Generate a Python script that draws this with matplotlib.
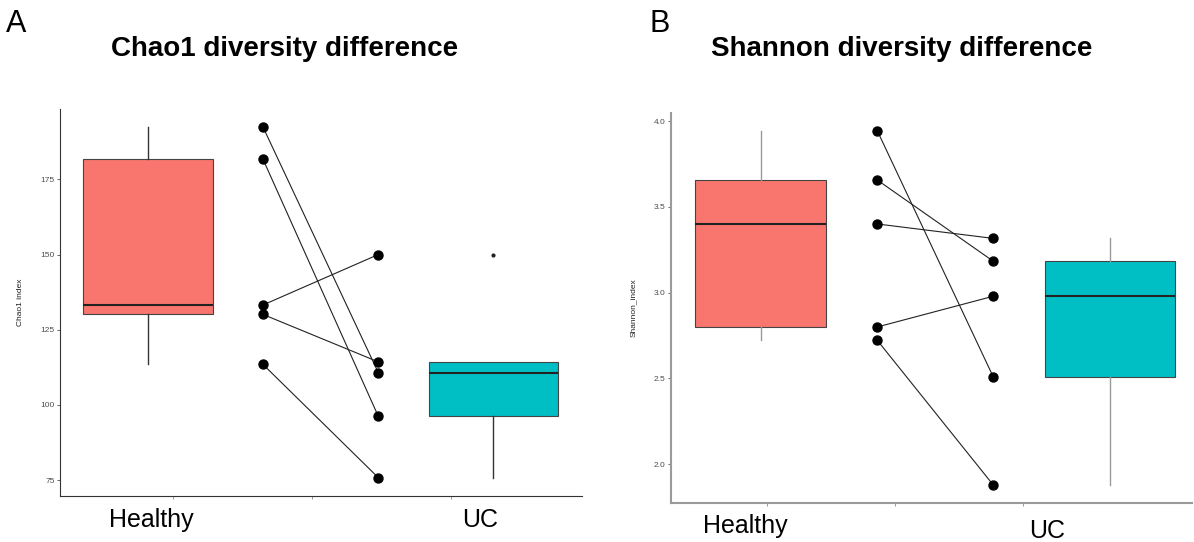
import matplotlib.pyplot as plt
import matplotlib.transforms as mtransforms

plt.rcParams['font.family'] = ['Liberation Sans', 'DejaVu Sans']

# Paired samples: Healthy -> UC for each subject
chao1_healthy = [192.5, 181.8, 133.2, 130.1, 113.5]
chao1_uc = [110.7, 96.2, 150.0, 114.3, 75.8]

shannon_healthy = [3.943, 3.656, 3.400, 2.800, 2.722]
shannon_uc = [2.509, 3.183, 3.316, 2.979, 1.879]

groups = ["Healthy", "UC"]
colors = ["#F8766D", "#00BFC4"]

fig = plt.figure(figsize=(11.94, 5.42), dpi=100)


def panel(rect, healthy, uc, title, ylabel, yticks, ylim, xlim, box_pos,
          box_w, pair_pos, label_pos, label_y, axis_color, axis_lw,
          whisk_color, letter, letter_x, title_x):
    ax = fig.add_axes(rect)
    bp = ax.boxplot([healthy, uc], positions=box_pos, widths=box_w,
                    patch_artist=True, showcaps=False, whis=1.5,
                    medianprops=dict(color="#222222", lw=1.5),
                    whiskerprops=dict(color=whisk_color, lw=1.0),
                    boxprops=dict(edgecolor="#444444", lw=0.8),
                    flierprops=dict(marker="o", markersize=2,
                                    markerfacecolor="#222222",
                                    markeredgecolor="#222222"))
    for patch, c in zip(bp["boxes"], colors):
        patch.set_facecolor(c)

    # paired lines between the two time points
    for h, u in zip(healthy, uc):
        ax.plot(pair_pos, [h, u], color="#222222", lw=0.8, zorder=3)
    ax.scatter([pair_pos[0]] * len(healthy), healthy, s=42, color="black",
               zorder=4)
    ax.scatter([pair_pos[1]] * len(uc), uc, s=42, color="black", zorder=4)

    ax.set_xlim(*xlim)
    ax.set_ylim(*ylim)
    ax.set_yticks(yticks)
    ax.set_xticks([1, 2, 3])
    ax.set_xticklabels([])
    ax.tick_params(axis="y", labelsize=6, colors="#4D4D4D", length=2.5,
                   width=0.6, pad=1.5)
    ax.tick_params(axis="x", colors="#888888", length=2.5, width=0.6)
    for s in ["top", "right"]:
        ax.spines[s].set_visible(False)
    for s in ["left", "bottom"]:
        ax.spines[s].set_color(axis_color)
        ax.spines[s].set_linewidth(axis_lw)
    ax.set_ylabel(ylabel, fontsize=6, color="#222222", labelpad=12)

    trans = mtransforms.blended_transform_factory(ax.transData, ax.transAxes)
    for g, x, y in zip(groups, label_pos, label_y):
        ax.text(x, y, g, transform=trans, ha="center", va="baseline",
                fontsize=18, color="black")

    fig.text(title_x, 0.91, title, ha="center", va="center", fontsize=20,
             fontweight="bold")
    fig.text(letter_x, 0.955, letter, ha="left", va="center", fontsize=22)
    return ax


panel([0.0503, 0.0849, 0.4372, 0.714], chao1_healthy, chao1_uc,
      "Chao1 diversity difference", "Chao1 index", [75, 100, 125, 150, 175],
      (69.7, 198.4), (0.187, 3.94), [0.818, 3.302], 0.93, [1.645, 2.475],
      [0.845, 3.207], [-0.079, -0.079], "#333333", 0.8, "#333333",
      "A", 0.005, 0.238)

panel([0.562, 0.0725, 0.4363, 0.7185], shannon_healthy, shannon_uc,
      "Shannon diversity difference", "Shannon_index",
      [2.0, 2.5, 3.0, 3.5, 4.0], (1.776, 4.045), (0.254, 4.315),
      [0.953, 3.676], 1.02, [1.862, 2.766], [0.831, 3.189],
      [-0.078, -0.091], "#9a9a9a", 1.5, "#9a9a9a", "B", 0.544, 0.755)

fig.savefig("out.png", dpi=100)
